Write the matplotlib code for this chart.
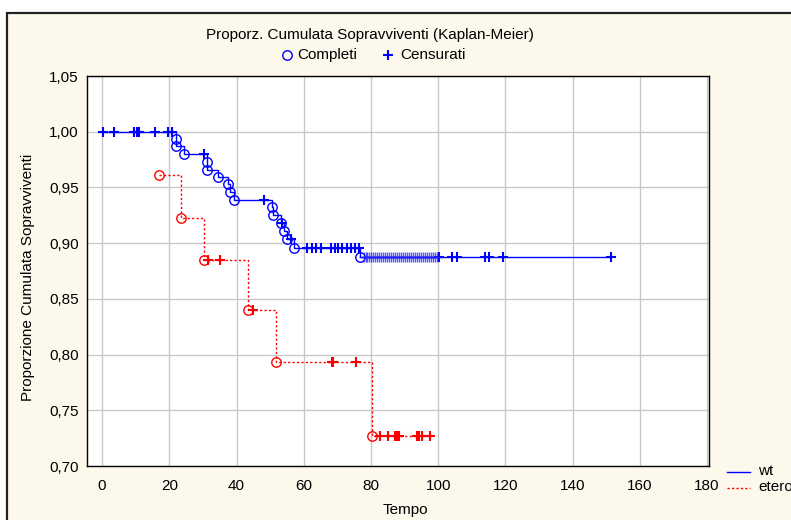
import numpy as np
import matplotlib
matplotlib.use("Agg")
import matplotlib.pyplot as plt
from matplotlib.patches import Rectangle
from matplotlib.lines import Line2D

plt.rcParams['font.family'] = ['Liberation Sans', 'DejaVu Sans']

# wt group: event times (circles) and survival right after each event
wt_event_t = [22.0, 22.0, 24.5, 31.1, 31.1, 34.4, 37.4, 38.1, 39.1,
              50.5, 50.8, 53.3, 54.2, 55.1, 57.2, 76.8]
wt_event_s = [0.9939, 0.987, 0.980, 0.973, 0.966, 0.959, 0.953, 0.946, 0.939,
              0.932, 0.9255, 0.918, 0.911, 0.904, 0.896, 0.888]
wt_cens_t = [0.4, 3.4, 9.6, 10.3, 11.1, 15.8, 19.7, 20.9, 30.2, 48.2, 53.5, 56.1,
             61.1, 62.4, 63.7, 65.2, 68.0, 69.2, 70.2, 71.3, 72.8, 74.2, 75.3, 76.5,
             77.9, 78.4, 78.8, 79.5, 80.1, 80.6, 81.2, 81.9, 82.3, 83.0, 83.6, 84.1,
             84.7, 85.4, 85.9, 86.5, 87.1, 87.8, 88.2, 88.9, 89.5, 90.0, 90.6, 91.3,
             91.8, 92.4, 93.1, 93.6, 94.2, 94.9, 95.4, 96.0, 96.7, 97.3, 97.9, 98.6,
             99.2, 99.7, 100.3, 104.0, 105.7, 114.0, 115.2, 119.4, 151.3]

# eterozigoti group
et_event_t = [17.0, 23.5, 30.2, 43.3, 51.6, 80.4]
et_event_s = [0.9615, 0.923, 0.8846, 0.840, 0.793, 0.727]
et_cens_t = [31.6, 35.1, 45.0, 68.3, 68.8, 75.6,
             82.7, 85.2, 87.2, 87.7, 88.2, 93.6, 94.4, 95.1, 97.6]

x_ticks = [0, 20, 40, 60, 80, 100, 120, 140, 160, 180]
y_ticks = [0.70, 0.75, 0.80, 0.85, 0.90, 0.95, 1.00, 1.05]

FS = 11
RED_DASH = (0, (1.6, 1.6))


def step_value(t, times, surv, start):
    # survival level of the curve at time t
    s = start
    for ti, si in zip(times, surv):
        if ti <= t:
            s = si
    return s


fig = plt.figure(figsize=(7.91, 5.2), dpi=100)
fig.patch.set_facecolor('white')
frame = Rectangle((7 / 791, -0.1), 1.2, 1 - 13 / 520 + 0.1,
                  transform=fig.transFigure, facecolor='#FDF8EC',
                  edgecolor='#222222', linewidth=1.6, zorder=-10)
fig.patches.append(frame)

ax = fig.add_axes([87 / 791, 1 - 466 / 520, (709 - 87) / 791, (466 - 76) / 520])
ax.set_facecolor('white')

# wt curve
wt_x = [0.0] + wt_event_t + [max(wt_cens_t)]
wt_y = [1.0] + wt_event_s + [wt_event_s[-1]]
ax.step(wt_x, wt_y, where='post', color='#0000FF', linewidth=1.0, zorder=3)
ax.plot(wt_event_t, wt_event_s, 'o', mfc='none', mec='#0000FF', ms=6.8, mew=1.0, zorder=4)
wt_cens_s = [step_value(t, wt_event_t, wt_event_s, 1.0) for t in wt_cens_t]
dense = [(t, s) for t, s in zip(wt_cens_t, wt_cens_s) if 77.5 < t < 100]
sparse = [(t, s) for t, s in zip(wt_cens_t, wt_cens_s) if not 77.5 < t < 100]
ax.plot([p[0] for p in sparse], [p[1] for p in sparse], '+', color='#0000FF',
        ms=7.5, mew=1.5, zorder=4)
ax.plot([p[0] for p in dense], [p[1] for p in dense], '+', color='#2020FF',
        ms=7.5, mew=1.0, alpha=0.75, zorder=4)

# eterozigoti curve
et_x = et_event_t + [max(et_cens_t)]
et_y = et_event_s + [et_event_s[-1]]
ax.step(et_x, et_y, where='post', color='#FF0000', linewidth=1.0,
        linestyle=RED_DASH, zorder=3)
ax.plot(et_event_t, et_event_s, 'o', mfc='none', mec='#FF0000', ms=6.8, mew=1.0, zorder=4)
et_cens_s = [step_value(t, et_event_t, et_event_s, 1.0) for t in et_cens_t]
ax.plot(et_cens_t, et_cens_s, '+', color='#FF0000', ms=7.5, mew=1.5, zorder=4)

ax.set_xlim(-4.5, 180.6)
ax.set_ylim(0.70, 1.05)
ax.set_xticks(x_ticks)
ax.set_yticks(y_ticks)
ax.set_yticklabels([f"{v:.2f}".replace('.', ',') for v in y_ticks])
ax.tick_params(length=0, labelsize=FS, colors='black')
ax.tick_params(axis='y', pad=6)
ax.tick_params(axis='x', pad=9)
ax.grid(True, color='#C8C8C8', linewidth=1.0, zorder=0)
ax.set_axisbelow(True)
for sp in ax.spines.values():
    sp.set_color('black')
    sp.set_linewidth(1.0)

fig.text(28 / 791, 1 - 277 / 520, 'Proporzione Cumulata Sopravviventi', rotation=90,
         ha='center', va='center', fontsize=FS)
fig.text(405 / 791, 1 - 510 / 520, 'Tempo', ha='center', va='center', fontsize=FS)
fig.text(370 / 791, 1 - 35 / 520, 'Proporz. Cumulata Sopravviventi (Kaplan-Meier)',
         ha='center', va='center', fontsize=FS)

# top legend (marker types)
fig.add_artist(Line2D([287 / 791], [1 - 55 / 520], marker='o', mfc='none', mec='#0000FF',
                      ms=6.8, mew=1.0, transform=fig.transFigure))
fig.text(297 / 791, 1 - 55 / 520, 'Completi', ha='left', va='center', fontsize=FS)
fig.add_artist(Line2D([388 / 791], [1 - 55 / 520], marker='+', color='#0000FF',
                      ms=7.5, mew=1.5, transform=fig.transFigure))
fig.text(400 / 791, 1 - 55 / 520, 'Censurati', ha='left', va='center', fontsize=FS)

# bottom-right legend (groups)
fig.add_artist(Line2D([727 / 791, 750 / 791], [1 - 472 / 520] * 2, color='#0000FF',
                      linewidth=1.0, transform=fig.transFigure))
fig.text(758 / 791, 1 - 471 / 520, 'wt', ha='left', va='center', fontsize=FS)
fig.add_artist(Line2D([727 / 791, 750 / 791], [1 - 488 / 520] * 2, color='#FF0000',
                      linewidth=1.0, linestyle=RED_DASH, transform=fig.transFigure))
fig.text(758 / 791, 1 - 487 / 520, 'eterozigoti', ha='left', va='center', fontsize=FS)

fig.savefig('out.png', dpi=100)
